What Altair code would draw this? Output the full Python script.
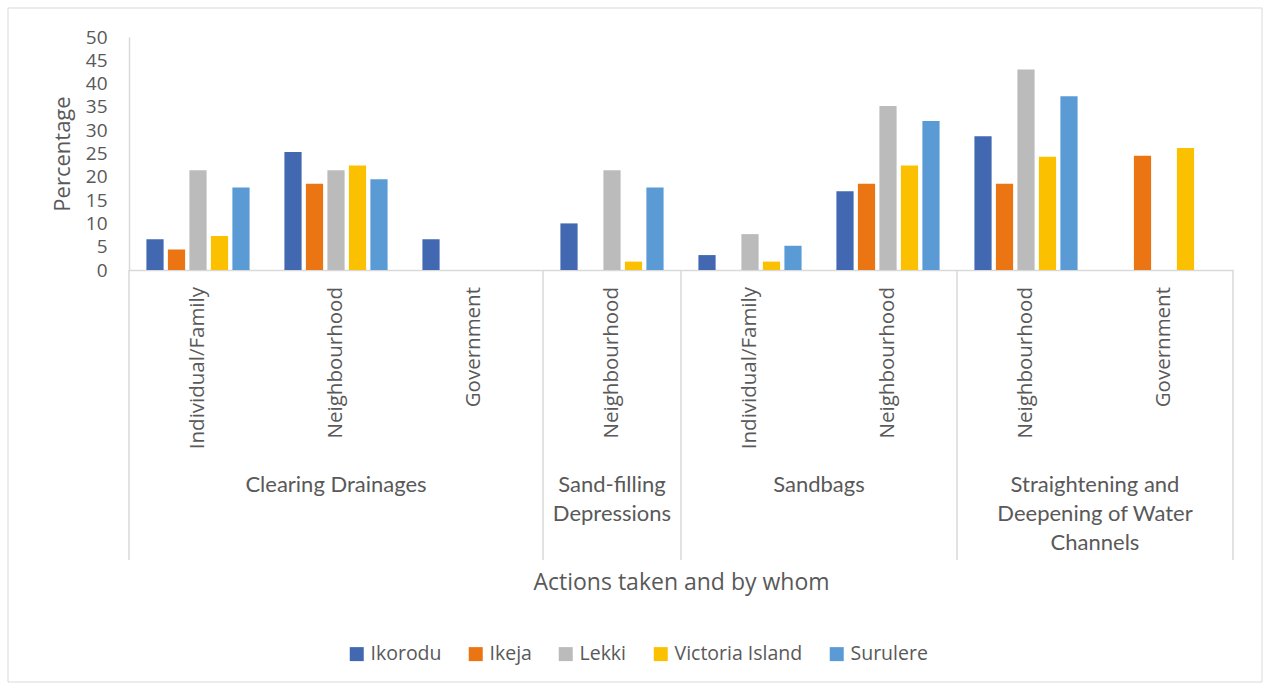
import altair as alt
import pandas as pd

# ---- data ----
action = ["Clearing Drainages", "Clearing Drainages", "Clearing Drainages",
          "Sand-filling Depressions",
          "Sandbags", "Sandbags",
          "Straightening and Deepening of Water Channels",
          "Straightening and Deepening of Water Channels"]
by_whom = ["Individual/Family", "Neighbourhood", "Government",
           "Neighbourhood",
           "Individual/Family", "Neighbourhood",
           "Neighbourhood", "Government"]
group_text = {
    "Clearing Drainages": "Clearing Drainages",
    "Sand-filling Depressions": "Sand-filling\nDepressions",
    "Sandbags": "Sandbags",
    "Straightening and Deepening of Water Channels": "Straightening and\nDeepening of Water\nChannels",
}
series = ["Ikorodu", "Ikeja", "Lekki", "Victoria Island", "Surulere"]
colors = ["#4268B1", "#EA7512", "#BBBBBB", "#FBC100", "#5B9BD5"]

ikorodu = [6.6, 25.3, 6.6, 10.0, 3.2, 16.9, 28.7, 0]
ikeja = [4.4, 18.5, 0, 0, 0, 18.5, 18.5, 24.5]
lekki = [21.4, 21.4, 0, 21.4, 7.7, 35.2, 43.0, 0]
victoria = [7.3, 22.4, 0, 1.8, 1.8, 22.4, 24.3, 26.2]
surulere = [17.7, 19.5, 0, 17.7, 5.2, 32.0, 37.3, 0]
values = [ikorodu, ikeja, lekki, victoria, surulere]

y_ticks = list(range(0, 51, 5))

# ---- tables built from the lists ----
keys = [f"{a} | {b}" for a, b in zip(action, by_whom)]
rows = []
for s, vals in zip(series, values):
    for k, v in zip(keys, vals):
        rows.append({"key": k, "series": s, "value": v})
df = pd.DataFrame(rows)
df_sub = pd.DataFrame({"key": keys, "by": by_whom})

grp_mid, grp_edge, sep_start = [], [], []
for g in dict.fromkeys(action):
    idx = [i for i, a in enumerate(action) if a == g]
    n = len(idx)
    sep_start.append({"key": keys[idx[0]]})
    if n % 2:
        grp_mid.append({"key": keys[idx[n // 2]], "label": group_text[g]})
    else:
        grp_edge.append({"key": keys[idx[n // 2 - 1]], "label": group_text[g]})
df_mid = pd.DataFrame(grp_mid)
df_edge = pd.DataFrame(grp_edge)
df_sep0 = pd.DataFrame(sep_start)
df_sep1 = pd.DataFrame([{"key": keys[-1]}])

GREY = "#595959"
LINE = "#D9D9D9"
FONT = "Open Sans"

x_scale = alt.Scale(domain=keys, paddingInner=0, paddingOuter=0)
x_axis = alt.Axis(labels=False, ticks=False, domain=True, domainColor=LINE,
                  domainWidth=1.5, grid=False,
                  title="Actions taken and by whom", titleFont=FONT,
                  titleFontSize=23, titleFontWeight="normal", titleColor=GREY,
                  titleY=312, titleBaseline="middle")


def X(bp=None):
    if bp is None:
        return alt.X("key:N", scale=x_scale, sort=keys, axis=x_axis)
    return alt.X("key:N", scale=x_scale, sort=keys, axis=x_axis, bandPosition=bp)


bars = alt.Chart(df).mark_bar().encode(
    x=X(),
    xOffset=alt.XOffset("series:N", sort=series,
                        scale=alt.Scale(domain=series, paddingInner=0.2, paddingOuter=0.81)),
    y=alt.Y("value:Q", scale=alt.Scale(domain=[0, 50], nice=False),
            axis=alt.Axis(values=y_ticks, grid=False, ticks=False, domainColor=LINE,
                          domainWidth=1.5, labelFont=FONT, labelFontSize=19,
                          labelColor=GREY, labelPadding=22,
                          title="Percentage", titleFont=FONT, titleFontSize=22,
                          titleFontWeight="normal", titleColor=GREY,
                          titleAngle=270, titleX=-67, titleY=116.5,
                          titleAlign="center", titleBaseline="middle")),
    color=alt.Color("series:N", sort=series,
                    scale=alt.Scale(domain=series, range=colors),
                    legend=alt.Legend(title=None, orient="none", direction="horizontal",
                                      columns=5, legendX=218, legendY=607,
                                      symbolType="square", symbolSize=196,
                                      symbolStrokeWidth=0, labelFont=FONT,
                                      labelFontSize=19.5, labelColor=GREY,
                                      labelOffset=4, columnPadding=24)),
)

sub_labels = alt.Chart(df_sub).mark_text(
    angle=270, align="right", baseline="middle", font=FONT, fontSize=20.5, color=GREY
).encode(x=X(0.5), y=alt.value(250), text="by:N")

grp_labels_mid = alt.Chart(df_mid).mark_text(
    align="center", baseline="top", font="Lato", fontSize=22, color=GREY,
    lineBreak="\n", lineHeight=29
).encode(x=X(0.5), y=alt.value(438), text="label:N")

grp_labels_edge = alt.Chart(df_edge).mark_text(
    align="center", baseline="top", font="Lato", fontSize=22, color=GREY,
    lineBreak="\n", lineHeight=29
).encode(x=X(1), y=alt.value(438), text="label:N")

sep0 = alt.Chart(df_sep0).mark_rule(color=LINE, strokeWidth=1.5).encode(
    x=X(0), y=alt.value(233), y2=alt.value(523))
sep1 = alt.Chart(df_sep1).mark_rule(color=LINE, strokeWidth=1.5).encode(
    x=X(1), y=alt.value(233), y2=alt.value(523))

border = alt.Chart(pd.DataFrame({"a": [0]})).mark_rect(
    fill="transparent", stroke=LINE, strokeWidth=1
).encode(x=alt.value(-121), x2=alt.value(1133), y=alt.value(-29), y2=alt.value(645))

chart = alt.layer(border, sep0, sep1, bars, sub_labels, grp_labels_mid, grp_labels_edge).properties(
    width=1104, height=233,
    autosize=alt.AutoSizeParams(type="none"),
    padding={"left": 129, "top": 37, "right": 34, "bottom": 418},
    background="white",
).configure_view(stroke=None)

chart.save("out.html", embed_options={"renderer": "svg", "actions": False})
